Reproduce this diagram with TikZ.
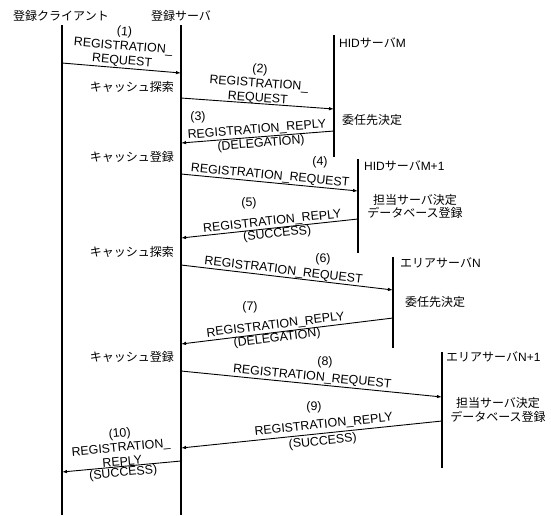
\documentclass[tikz,border=0pt]{standalone}
\usepackage{fontspec}
\setmainfont{Liberation Sans}
\newfontfamily\jp{Noto Sans CJK JP}
\newfontfamily\lat{Liberation Sans}
\usetikzlibrary{arrows.meta}
\begin{document}
\begin{tikzpicture}[x=1pt,y=-1pt,
  life/.style={line width=1.2pt},
  msg/.style={line width=0.9pt,-{Latex[length=5pt,width=3.5pt]}},
  lbl/.style={font=\fontsize{12.4}{14.5}\selectfont, align=center, inner sep=0.8pt},
  num/.style={font=\fontsize{12.4}{14.5}\selectfont, inner sep=0pt},
  jlbl/.style={font=\fontsize{12}{14}\selectfont\jp, inner sep=0pt, align=center},
]
\useasboundingbox (0,0) rectangle (551,515);

% lifelines
\coordinate (cT) at (62,25);   \coordinate (cB) at (62,515);
\coordinate (sT) at (181,25);  \coordinate (sB) at (181,515);
\coordinate (mT) at (334,35);  \coordinate (mB) at (334,157);
\coordinate (m1T) at (358,159); \coordinate (m1B) at (358,253);
\coordinate (nT) at (393,257); \coordinate (nB) at (393,348);
\coordinate (n1T) at (442,352); \coordinate (n1B) at (442,468);
\draw[life] (cT) -- (cB);
\draw[life] (sT) -- (sB);
\draw[life] (mT) -- (mB);
\draw[life] (m1T) -- (m1B);
\draw[life] (nT) -- (nB);
\draw[life] (n1T) -- (n1B);

% titles
\node[jlbl] (tc) at (61,16) {登録クライアント};
\node[jlbl] (ts) at (181,16) {登録サーバ};

% server labels
\node[jlbl, anchor=west] (hm) at (339,43) {{\lat HID}サーバ{\lat M}};
\node[jlbl, anchor=west] (hm1) at (364,166) {{\lat HID}サーバ{\lat M+1}};
\node[jlbl, anchor=west] (an) at (400,263) {エリアサーバ{\lat N}};
\node[jlbl, anchor=west] (an1) at (446,357) {エリアサーバ{\lat N+1}};

% right side process labels
\node[jlbl, anchor=west] (r1) at (342,120) {委任先決定};
\node[jlbl, font=\fontsize{12}{13.5}\selectfont\jp] (r2) at (415,206.5) {担当サーバ決定\\データベース登録};
\node[jlbl, anchor=west] (r3) at (405,302) {委任先決定};
\node[jlbl, font=\fontsize{12}{13.5}\selectfont\jp] (r4) at (498,410) {担当サーバ決定\\データベース登録};

% left side cache labels
\node[jlbl, anchor=east] (k1) at (174,87) {キャッシュ探索};
\node[jlbl, anchor=east] (k2) at (174,157) {キャッシュ登録};
\node[jlbl, anchor=east] (k3) at (174,252) {キャッシュ探索};
\node[jlbl, anchor=east] (k4) at (174,357) {キャッシュ登録};

% message end points
\coordinate (p1a) at (62,63);   \coordinate (p1b) at (181,73);
\coordinate (p2a) at (181,98);  \coordinate (p2b) at (334,109);
\coordinate (p3a) at (334,131); \coordinate (p3b) at (181,143);
\coordinate (p4a) at (181,174); \coordinate (p4b) at (358,191);
\coordinate (p5a) at (358,219); \coordinate (p5b) at (181,238);
\coordinate (p6a) at (181,265); \coordinate (p6b) at (393,290);
\coordinate (p7a) at (393,318); \coordinate (p7b) at (181,344);
\coordinate (p8a) at (181,371); \coordinate (p8b) at (442,397);
\coordinate (p9a) at (442,421); \coordinate (p9b) at (181,448);
\coordinate (p10a) at (181,461); \coordinate (p10b) at (62,472);

% messages
\draw[msg] (p1a) -- node[lbl, sloped, above, pos=0.5] (l1) {(1)\\REGISTRATION\_\\REQUEST} (p1b);
\draw[msg] (p2a) -- node[lbl, sloped, above, pos=0.5, inner sep=-1pt] (l2) {(2)\\REGISTRATION\_\\REQUEST} (p2b);
\draw[msg] (p3a) -- node[lbl, sloped, above, pos=0.5] (l3) {REGISTRATION\_REPLY}
                    node[lbl, sloped, below, pos=0.48] (l3b) {(DELEGATION)} (p3b);
\draw[msg] (p4a) -- node[lbl, sloped, above, pos=0.5, inner sep=0.5pt] (l4) {REGISTRATION\_REQUEST} (p4b);
\draw[msg] (p5a) -- node[lbl, sloped, above, pos=0.48, inner sep=0.2pt] (l5) {REGISTRATION\_REPLY}
                    node[lbl, sloped, below, pos=0.46, inner sep=0.2pt] (l5b) {(SUCCESS)} (p5b);
\draw[msg] (p6a) -- node[lbl, sloped, above, pos=0.48, inner sep=0.3pt] (l6) {REGISTRATION\_REQUEST} (p6b);
\draw[msg] (p7a) -- node[lbl, sloped, above, pos=0.55] (l7) {REGISTRATION\_REPLY}
                    node[lbl, sloped, below, pos=0.55, inner sep=0pt] (l7b) {(DELEGATION)} (p7b);
\draw[msg] (p8a) -- node[lbl, sloped, above, pos=0.5] (l8) {REGISTRATION\_REQUEST} (p8b);
\draw[msg] (p9a) -- node[lbl, sloped, above, pos=0.45, inner sep=2pt] (l9) {REGISTRATION\_REPLY}
                    node[lbl, sloped, below, pos=0.46, inner sep=2pt] (l9b) {(SUCCESS)} (p9b);
\draw[msg] (p10a) -- node[lbl, sloped, above, pos=0.49, inner sep=0pt] (l10) {(10)\\REGISTRATION\_\\REPLY}
                    node[lbl, sloped, below, pos=0.49, inner sep=0.5pt] (l10b) {(SUCCESS)} (p10b);

% message numbers
\node[num] (n3) at (198,117) {(3)};
\node[num] (n4) at (320,162) {(4)};
\node[num] (n5) at (249,203) {(5)};
\node[num] (n6) at (323,259) {(6)};
\node[num] (n7) at (250,307) {(7)};
\node[num] (n8) at (325,362) {(8)};
\node[num] (n9) at (314,407) {(9)};
\end{tikzpicture}
\end{document}
